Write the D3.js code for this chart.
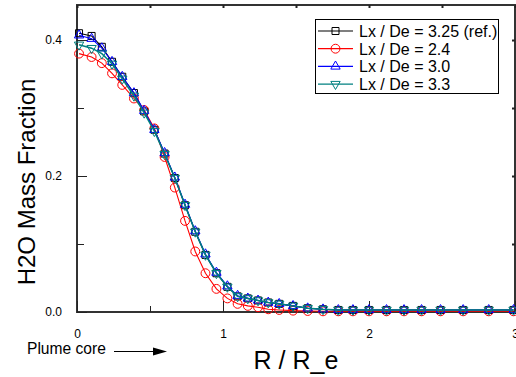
<!DOCTYPE html>
<html>
<head>
<meta charset="utf-8">
<script src="https://cdn.jsdelivr.net/npm/d3@7"></script>
<style>
  body { margin: 0; background: #fff; }
  text { font-family: "Liberation Sans", Arial, sans-serif; fill: #000; }
</style>
</head>
<body>
<script>
// radial positions R / R_e (shared by all series)
var rGrid = [0.014, 0.10, 0.17, 0.24, 0.31, 0.39, 0.46, 0.53, 0.60, 0.67, 0.74, 0.81, 0.88, 0.955,
  1.03, 1.10, 1.17, 1.24, 1.31, 1.385, 1.48, 1.58, 1.685, 1.79, 1.89, 2.0, 2.12, 2.24, 2.36, 2.49,
  2.645, 2.82, 2.99];

// H2O mass fraction, one list per case
var yRef = [0.410, 0.406, 0.390, 0.368, 0.346, 0.322, 0.295, 0.268, 0.233, 0.197, 0.157, 0.118, 0.084, 0.057,
  0.037, 0.023, 0.020, 0.017, 0.014, 0.012, 0.009, 0.0055, 0.004, 0.003, 0.003, 0.003, 0.003, 0.003, 0.003, 0.003,
  0.003, 0.003, 0.003];
var y24 = [0.380, 0.375, 0.366, 0.351, 0.334, 0.314, 0.297, 0.270, 0.228, 0.183, 0.134, 0.089, 0.057, 0.034,
  0.020, 0.012, 0.009, 0.007, 0.004, 0.003, 0.002, 0.0015, 0.001, 0.001, 0.001, 0.001, 0.001, 0.001, 0.001, 0.001,
  0.001, 0.001, 0.001];
var y30 = [0.407, 0.402, 0.388, 0.368, 0.346, 0.322, 0.296, 0.268, 0.234, 0.198, 0.158, 0.119, 0.085, 0.058,
  0.038, 0.024, 0.020, 0.017, 0.014, 0.012, 0.009, 0.0055, 0.004, 0.003, 0.003, 0.003, 0.003, 0.003, 0.003, 0.003,
  0.003, 0.003, 0.003];
var y33 = [0.393, 0.388, 0.380, 0.365, 0.343, 0.318, 0.293, 0.266, 0.232, 0.197, 0.157, 0.118, 0.084, 0.057,
  0.037, 0.023, 0.020, 0.017, 0.014, 0.012, 0.009, 0.0055, 0.004, 0.003, 0.003, 0.003, 0.003, 0.003, 0.003, 0.003,
  0.003, 0.003, 0.003];

var seriesNames = ["Lx / De = 3.25 (ref.)", "Lx / De = 2.4", "Lx / De = 3.0", "Lx / De = 3.3"];
var seriesValues = [yRef, y24, y30, y33];
var seriesColors = ["#000000", "#ff0000", "#0000ff", "#008080"];
var seriesSymbols = ["square", "circle", "triUp", "triDown"];

var xTicks = [0, 1, 2, 3];
var xMinor = [0.5, 1.5, 2.5];
var yTicks = [0.0, 0.2, 0.4];
var yMinor = [0.1, 0.3];

var W = 516, H = 377;
var x = d3.scaleLinear().domain([0, 3]).range([77, 515]);
var y = d3.scaleLinear().domain([0, 0.4515]).range([312, 5]);

var svg = d3.select("body").append("svg")
    .attr("width", W)
    .attr("height", H);

// frame
svg.append("rect")
    .attr("x", 77).attr("y", 5)
    .attr("width", 515 - 77).attr("height", 312 - 5)
    .attr("fill", "none")
    .attr("stroke", "#333")
    .attr("stroke-width", 2);

// axes with inward ticks
var xAxis = svg.append("g").attr("transform", "translate(0,312)")
    .call(d3.axisBottom(x).tickValues(xTicks).tickSize(-11).tickFormat(d3.format("d")).tickPadding(17));
xAxis.select(".domain").remove();
xAxis.selectAll("text").style("font-size", "12px");
xAxis.selectAll("line").attr("stroke", "#222");

svg.append("g").attr("transform", "translate(0,312)")
    .call(d3.axisBottom(x).tickValues(xMinor).tickSize(-6).tickFormat(""))
    .call(function(g) { g.select(".domain").remove(); g.selectAll("line").attr("stroke", "#222"); });

var yAxis = svg.append("g").attr("transform", "translate(77,0)")
    .call(d3.axisLeft(y).tickValues(yTicks).tickSize(-10).tickFormat(d3.format(".1f")).tickPadding(15));
yAxis.select(".domain").remove();
yAxis.selectAll("text").style("font-size", "12px");
yAxis.selectAll("line").attr("stroke", "#222");

svg.append("g").attr("transform", "translate(77,0)")
    .call(d3.axisLeft(y).tickValues(yMinor).tickSize(-7).tickFormat(""))
    .call(function(g) { g.select(".domain").remove(); g.selectAll("line").attr("stroke", "#222"); });

// short ticks on top and right
svg.append("g").attr("transform", "translate(0,5)")
    .call(d3.axisTop(x).tickValues(xTicks.concat(xMinor)).tickSize(-3).tickFormat(""))
    .call(function(g) { g.select(".domain").remove(); g.selectAll("line").attr("stroke", "#222").attr("stroke-width", 2); });
svg.append("g").attr("transform", "translate(515,0)")
    .call(d3.axisRight(y).tickValues(yTicks.concat(yMinor)).tickSize(-3).tickFormat(""))
    .call(function(g) { g.select(".domain").remove(); g.selectAll("line").attr("stroke", "#222").attr("stroke-width", 2); });

function symbolPath(kind) {
  if (kind == "square") return d3.symbol(d3.symbolSquare, 49)();
  if (kind == "circle") return d3.symbol(d3.symbolCircle, 62)();
  return d3.symbol(d3.symbolTriangle, 38)();
}
function symbolRot(kind) { return kind == "triDown" ? " rotate(180)" : ""; }

var line = d3.line()
    .x(function(d) { return x(d[0]); })
    .y(function(d) { return y(d[1]); });

var plot = svg.append("g");
seriesValues.forEach(function(vals, i) {
  var pts = rGrid.map(function(r, j) { return [r, vals[j]]; });
  var g = plot.append("g");
  g.append("path")
      .datum(pts)
      .attr("d", line)
      .attr("fill", "none")
      .attr("stroke", seriesColors[i])
      .attr("stroke-width", i == 3 ? 1.5 : 1.1);
  g.selectAll("path.m")
      .data(pts)
      .enter().append("path")
      .attr("class", "m")
      .attr("d", symbolPath(seriesSymbols[i]))
      .attr("transform", function(d) { return "translate(" + x(d[0]) + "," + y(d[1]) + ")" + symbolRot(seriesSymbols[i]); })
      .attr("fill", "none")
      .attr("stroke", seriesColors[i])
      .attr("stroke-width", 1);
});

// legend
var legend = svg.append("g");
legend.append("rect")
    .attr("x", 315.5).attr("y", 19.5)
    .attr("width", 183).attr("height", 74)
    .attr("fill", "#fff")
    .attr("stroke", "#000")
    .attr("stroke-width", 1);
seriesNames.forEach(function(name, i) {
  var cy = 31 + i * 17.7;
  legend.append("line")
      .attr("x1", 318).attr("x2", 353)
      .attr("y1", cy).attr("y2", cy)
      .attr("stroke", seriesColors[i])
      .attr("stroke-width", 1.2);
  legend.append("path")
      .attr("d", symbolPath(seriesSymbols[i]))
      .attr("transform", "translate(335.5," + cy + ")" + symbolRot(seriesSymbols[i]))
      .attr("fill", "none")
      .attr("stroke", seriesColors[i]);
  legend.append("text")
      .attr("x", 359).attr("y", cy + 6)
      .style("font-size", "16px")
      .text(name);
});

// axis titles
svg.append("text")
    .attr("transform", "translate(35,182) rotate(-90)")
    .attr("text-anchor", "middle")
    .style("font-size", "24px")
    .text("H2O Mass Fraction");

svg.append("text")
    .attr("x", 296).attr("y", 369)
    .attr("text-anchor", "middle")
    .style("font-size", "25px")
    .text("R / R_e");

// plume core arrow
svg.append("text")
    .attr("x", 27).attr("y", 354)
    .style("font-size", "15.6px")
    .text("Plume core");
svg.append("line")
    .attr("x1", 114).attr("x2", 155)
    .attr("y1", 351.5).attr("y2", 351.5)
    .attr("stroke", "#000").attr("stroke-width", 1);
svg.append("path")
    .attr("d", "M153,347.5 L167,351.5 L153,355.5 Z")
    .attr("fill", "#000");
</script>
</body>
</html>
